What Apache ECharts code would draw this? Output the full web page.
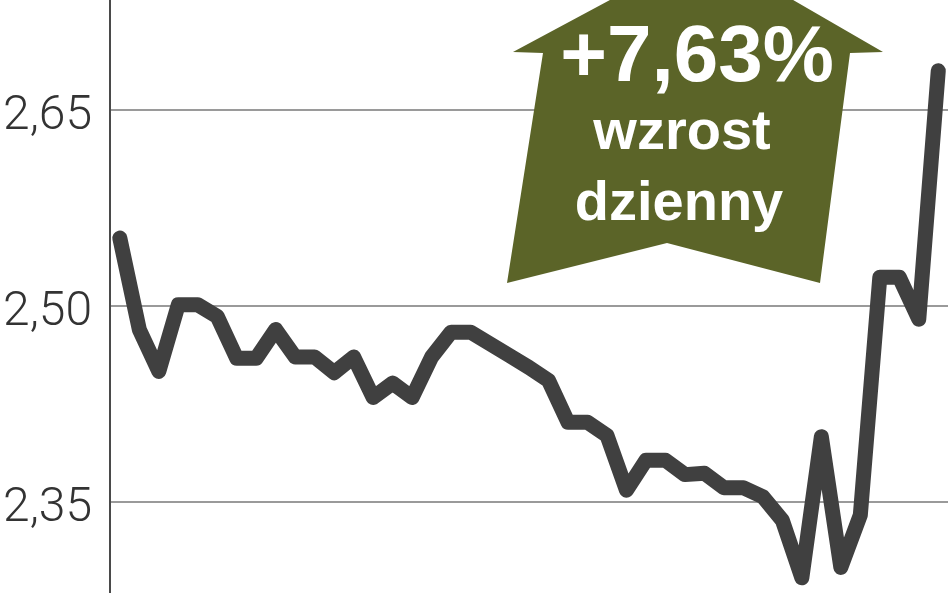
<!DOCTYPE html>
<html>
<head>
<meta charset="utf-8">
<script src="https://cdn.jsdelivr.net/npm/echarts@6/dist/echarts.min.js"></script>
<style>
html,body{margin:0;padding:0;background:#fff;}
#chart{width:948px;height:593px;}
</style>
</head>
<body>
<div id="chart"></div>
<script>
// Daily prices (43 sessions)
const days = ['1','2','3','4','5','6','7','8','9','10','11','12','13','14','15','16','17','18','19','20','21','22','23','24','25','26','27','28','29','30','31','32','33','34','35','36','37','38','39','40','41','42','43'];
const prices = [2.552, 2.482, 2.450, 2.501, 2.501, 2.492, 2.460, 2.460, 2.482, 2.461,
                2.461, 2.449, 2.461, 2.430, 2.441, 2.430, 2.461, 2.480, 2.480, 2.471,
                2.462, 2.453, 2.443, 2.411, 2.411, 2.401, 2.359, 2.382, 2.382, 2.371,
                2.372, 2.361, 2.361, 2.354, 2.336, 2.292, 2.400, 2.300, 2.340, 2.522,
                2.522, 2.490, 2.680];
const yTicks = [2.35, 2.50, 2.65];
const badgeLines = ['+7,63%', 'wzrost', 'dzienny'];

const chart = echarts.init(document.getElementById('chart'), null, {renderer: 'canvas'});
chart.setOption({
  animation: false,
  backgroundColor: '#ffffff',
  grid: {left: 110, right: 0, top: 0, bottom: 0, containLabel: false},
  xAxis: {
    type: 'category',
    data: days,
    boundaryGap: true,
    axisLine: {show: false},
    axisTick: {show: false},
    axisLabel: {show: false},
    splitLine: {show: false}
  },
  yAxis: {
    type: 'value',
    min: 2.2804,
    max: 2.7342,
    axisLine: {show: true, lineStyle: {color: '#4a4a4a', width: 2}},
    axisTick: {show: false, customValues: yTicks},
    axisLabel: {
      customValues: yTicks,
      margin: 18,
      color: '#333333',
      formatter: v => '{t|' + v.toFixed(2).replace('.', ',') + '}',
      rich: {
        t: {fontFamily: 'Roboto', fontWeight: 300, fontSize: 48, color: '#333333', padding: [14, 0, 0, 0]}
      }
    },
    splitLine: {show: true, lineStyle: {color: '#9a9a9a', width: 2}}
  },
  series: [{
    type: 'line',
    data: prices,
    showSymbol: false,
    symbol: 'none',
    lineStyle: {color: '#404040', width: 15, cap: 'round', join: 'round'},
    z: 3
  }],
  graphic: [
    {
      type: 'polygon',
      z: 100,
      shape: {points: [[705,-51],[883,52],[850,53],[820,283],[667,243],[507,283],[543,53],[513,52]]},
      style: {fill: '#5b6428'}
    },
    {
      type: 'text', z: 101, x: 697, y: 59,
      style: {text: badgeLines[0], fill: '#ffffff', font: 'bold 80px "Liberation Sans"', align: 'center', verticalAlign: 'middle'}
    },
    {
      type: 'text', z: 101, x: 682, y: 134,
      style: {text: badgeLines[1], fill: '#ffffff', font: 'bold 56px "Liberation Sans"', align: 'center', verticalAlign: 'middle'}
    },
    {
      type: 'text', z: 101, x: 679, y: 205,
      style: {text: badgeLines[2], fill: '#ffffff', font: 'bold 56px "Liberation Sans"', align: 'center', verticalAlign: 'middle'}
    }
  ]
});
</script>
</body>
</html>
